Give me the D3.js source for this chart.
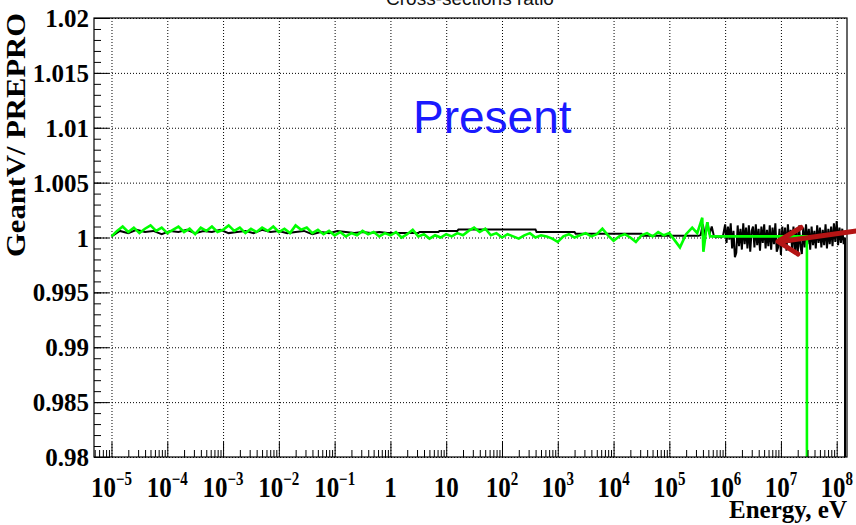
<!DOCTYPE html>
<html>
<head>
<meta charset="utf-8">
<script src="https://cdn.jsdelivr.net/npm/d3@7"></script>
<style>
body { margin: 0; background: #fff; }
svg { display: block; }
.lbl { font-family: "Liberation Serif", "Times New Roman", serif; font-weight: bold; fill: #000; }
</style>
</head>
<body>
<div id="chart"></div>
<script>
var chartTitle = "Cross-sections ratio";
var yTitle = "GeantV/ PREPRO";
var xTitle = "Energy, eV";
var noteText = "Present";

var xDecades = [-5, -4, -3, -2, -1, 0, 1, 2, 3, 4, 5, 6, 7, 8];
var yMajorTicks = [0.98, 0.985, 0.99, 0.995, 1, 1.005, 1.01, 1.015, 1.02];
var yTickLabels = ["0.98", "0.985", "0.99", "0.995", "1", "1.005", "1.01", "1.015", "1.02"];

// black curve, low energy: bins 0.15 decade wide starting at 1e-5 eV
var blackLowRatio = [1.0001, 1.0006, 1.0004, 1.0007, 1.0005, 1.0006, 1.0003, 1.0006, 1.0005, 1.0007,
    1.0004, 1.0006, 1.0005, 1.0007, 1.0004, 1.0005, 1.0006, 1.0004, 1.0007, 1.0005,
    1.0006, 1.0004, 1.0005, 1.0006, 1.0003, 1.0005, 1.0004, 1.0006, 1.0005, 1.0004,
    1.0005, 1.0004, 1.0005, 1.0004];
// black curve, smooth middle part (log10 E)
var blackMidLogE = [0.1, 0.5, 0.52, 0.86, 0.88, 1.2, 1.22, 2.6, 2.62, 3.3, 3.32, 4.5, 4.52, 5.52];
var blackMidRatio = [1.0004, 1.0004, 1.0005, 1.0005, 1.0006, 1.0006, 1.00073, 1.00073, 1.0005, 1.0005,
    1.00035, 1.00035, 1.00015, 1.00015];
// black curve, start of resonances: bins 0.04 decade wide from 10^5.56 eV
var blackHighRatio = [1.0002, 1.0012, 1.0001, 1.0014, 1.0003, 1.0010, 1.0001, 1.0000, 1.0001, 1.0000, 1.0001];
// black curve, resonance region: bins 0.025 decade wide from 10^6 eV
var blackNoiseRatio = [1.0012, 0.9995, 1.0010, 0.9998, 1.0013, 0.9990, 1.0006, 0.9982, 0.9986, 1.0011,
    0.9992, 1.0008, 0.9989, 1.0013, 0.9994, 1.0009, 0.9990, 1.0011, 0.9987, 1.0006,
    1.0010, 0.9991, 1.0012, 0.9993, 1.0008, 0.9988, 1.0010, 0.9995, 1.0012, 0.9990,
    1.0007, 0.9992, 1.0011, 0.9989, 1.0009, 0.9994, 1.0013, 0.9987, 0.9991, 1.0008,
    0.9984, 1.0010, 0.9993, 1.0009, 0.9988, 1.0012, 0.9995, 1.0007, 0.9990, 1.0010,
    0.9986, 1.0008, 0.9983, 1.0011, 0.9992, 0.9985, 1.0009, 0.9991, 1.0012, 0.9994,
    1.0008, 0.9989, 1.0010, 0.9993, 1.0006, 0.9990, 1.0011, 0.9995, 1.0009, 0.9991,
    1.0007, 0.9993, 1.0012, 0.9990, 1.0008, 0.9994, 1.0010, 0.9992, 1.0013, 0.9996,
    1.0015, 0.9993, 1.0009, 0.9995, 1.0008, 0.9994];
var blackEndLogE = [8.149, 8.149];
var blackEndRatio = [1.0000, 0.97];

// green curve, low energy: bins 0.1 decade wide starting at 1e-5 eV
var greenLowRatio = [1.0001, 1.0006, 1.0010, 1.0005, 1.0009, 1.0004, 1.0008, 1.0011, 1.0006, 1.0009,
    1.0004, 1.0007, 1.0010, 1.0005, 1.0008, 1.0003, 1.0009, 1.0006, 1.0010, 1.0005,
    1.0007, 1.0011, 1.0006, 1.0009, 1.0004, 1.0008, 1.0005, 1.0009, 1.0006, 1.0010,
    1.0005, 1.0008, 1.0004, 1.0011, 1.0007, 1.0009, 1.0004, 1.0007, 1.0003, 1.0006,
    1.0002, 1.0005, 1.0001, 1.0004, 1.0002, 1.0006, 1.0003, 1.0005, 1.0001, 1.0004,
    1.0002, 1.0005, 1.0000, 1.0003, 1.0007, 1.0001, 1.0003, 0.9999, 1.0002, 1.0000,
    1.0003, 1.0001, 1.0004, 1.0002, 1.0006, 1.0009, 1.0005, 1.0008, 1.0002, 1.0004,
    1.0000, 1.0003, 1.0001, 0.9999, 1.0002, 1.0004, 1.0000, 1.0002, 1.0001, 0.9999,
    0.9996, 1.0001, 1.0003, 1.0000, 1.0002, 1.0004, 1.0001, 1.0003, 1.0008, 1.0002,
    0.9997, 1.0001, 1.0003, 1.0000, 0.9996, 1.0002, 1.0004, 1.0001, 1.0005, 1.0002,
    1.0004];
// green curve, upper part (log10 E)
var greenTailLogE = [5.19, 5.3, 5.41, 5.5, 5.59, 5.61, 5.68, 5.73, 7.466, 7.466];
var greenTailRatio = [0.9991, 1.0003, 1.0009, 1.0004, 1.0018, 0.9987, 1.0014, 1.0001, 1.0001, 0.97];

var width = 856;
var height = 525;
var frame = { left: 94, right: 847, top: 18, bottom: 457 };

function addBins(series, values, startLog, stepLog) {
    values.forEach(function (v, i) {
        series.push({ e: Math.pow(10, startLog + stepLog * i), r: v });
    });
}
function addPoints(series, logs, values) {
    logs.forEach(function (l, i) {
        series.push({ e: Math.pow(10, l), r: values[i] });
    });
}

var blackSeries = [];
addBins(blackSeries, blackLowRatio, -5, 0.15);
addPoints(blackSeries, blackMidLogE, blackMidRatio);
addBins(blackSeries, blackHighRatio, 5.56, 0.04);
addBins(blackSeries, blackNoiseRatio, 6, 0.025);
addPoints(blackSeries, blackEndLogE, blackEndRatio);

var greenSeries = [];
addBins(greenSeries, greenLowRatio, -5, 0.1);
addPoints(greenSeries, greenTailLogE, greenTailRatio);

var x = d3.scaleLog()
    .domain([Math.pow(10, -5.3137), Math.pow(10, 8.1846)])
    .range([frame.left, frame.right]);
var y = d3.scaleLinear()
    .domain([0.98, 1.02])
    .range([frame.bottom, frame.top]);

var svg = d3.select("#chart")
    .append("svg")
    .attr("width", width)
    .attr("height", height);

svg.append("defs")
    .append("clipPath")
    .attr("id", "plotclip")
    .append("rect")
    .attr("x", frame.left)
    .attr("y", frame.top)
    .attr("width", frame.right - frame.left)
    .attr("height", frame.bottom - frame.top);

// dotted grid
var decadeValues = xDecades.map(function (k) { return Math.pow(10, k); });
var gx = svg.append("g")
    .attr("transform", "translate(0," + frame.bottom + ")")
    .call(d3.axisBottom(x).tickValues(decadeValues).tickSize(-(frame.bottom - frame.top)).tickFormat(""));
var gy = svg.append("g")
    .attr("transform", "translate(" + frame.left + ",0)")
    .call(d3.axisLeft(y).tickValues(yMajorTicks).tickSize(-(frame.right - frame.left)).tickFormat(""));
[gx, gy].forEach(function (g) {
    g.select(".domain").remove();
    g.selectAll("line")
        .attr("stroke", "#000")
        .attr("stroke-width", 1)
        .attr("stroke-dasharray", "1,2");
});

// curves
var line = d3.line()
    .x(function (d) { return x(d.e); })
    .y(function (d) { return y(d.r); });

var plot = svg.append("g").attr("clip-path", "url(#plotclip)");
plot.append("path")
    .datum(blackSeries)
    .attr("d", line)
    .attr("fill", "none")
    .attr("stroke", "#000")
    .attr("stroke-width", 2);
plot.append("path")
    .datum(greenSeries)
    .attr("d", line)
    .attr("fill", "none")
    .attr("stroke", "#00ff00")
    .attr("stroke-width", 2.6);

// frame
svg.append("rect")
    .attr("x", frame.left)
    .attr("y", frame.top)
    .attr("width", frame.right - frame.left)
    .attr("height", frame.bottom - frame.top)
    .attr("fill", "none")
    .attr("stroke", "#000")
    .attr("stroke-width", 1.2);

// ticks
var minorX = [];
for (var k = -6; k <= 8; k++) {
    for (var m = 2; m <= 9; m++) {
        var e = m * Math.pow(10, k);
        if (e > x.domain()[0] && e < x.domain()[1]) minorX.push(e);
    }
}
var minorY = d3.range(0, 41).map(function (i) { return 0.98 + i * 0.001; });

function tickAxis(g) {
    g.select(".domain").remove();
    g.selectAll("line").attr("stroke", "#000").attr("stroke-width", 1);
}
svg.append("g")
    .attr("transform", "translate(0," + frame.bottom + ")")
    .call(d3.axisBottom(x).tickValues(minorX).tickSize(-7).tickFormat(""))
    .call(tickAxis);
svg.append("g")
    .attr("transform", "translate(0," + frame.bottom + ")")
    .call(d3.axisBottom(x).tickValues(decadeValues).tickSize(-15).tickFormat(""))
    .call(tickAxis);
svg.append("g")
    .attr("transform", "translate(" + frame.left + ",0)")
    .call(d3.axisLeft(y).tickValues(minorY).tickSize(-7).tickFormat(""))
    .call(tickAxis);
svg.append("g")
    .attr("transform", "translate(" + frame.left + ",0)")
    .call(d3.axisLeft(y).tickValues(yMajorTicks).tickSize(-15).tickFormat(""))
    .call(tickAxis);

// y tick labels
svg.selectAll(".ylab")
    .data(yMajorTicks)
    .enter()
    .append("text")
    .attr("class", "lbl")
    .attr("x", 89)
    .attr("y", function (d) { return y(d); })
    .attr("dy", "0.36em")
    .attr("text-anchor", "end")
    .style("font-size", "25px")
    .text(function (d, i) { return yTickLabels[i]; });

// x tick labels
var xl = svg.selectAll(".xlab")
    .data(xDecades)
    .enter()
    .append("text")
    .attr("class", "lbl")
    .attr("text-anchor", "middle")
    .attr("transform", function (d) {
        return "translate(" + x(Math.pow(10, d)) + ",497) scale(1,1.2)";
    })
    .style("font-size", "25px");
xl.append("tspan")
    .text(function (d) { return d === 0 ? "1" : "10"; });
xl.filter(function (d) { return d !== 0 && d !== 1; })
    .append("tspan")
    .attr("dy", -10)
    .style("font-size", "15px")
    .text(function (d) { return d < 0 ? "\u2212" + (-d) : String(d); });

// axis titles
svg.append("text")
    .attr("class", "lbl")
    .attr("x", 847)
    .attr("y", 518)
    .attr("text-anchor", "end")
    .style("font-size", "25px")
    .text(xTitle);

svg.append("text")
    .attr("class", "lbl")
    .attr("transform", "translate(25,135) rotate(-90)")
    .attr("text-anchor", "middle")
    .attr("textLength", 244)
    .attr("lengthAdjust", "spacingAndGlyphs")
    .style("font-size", "27px")
    .text(yTitle);

svg.append("text")
    .attr("x", 470)
    .attr("y", 5)
    .attr("text-anchor", "middle")
    .style("font-family", "'Liberation Sans', Arial, sans-serif")
    .style("font-size", "19px")
    .style("fill", "#111")
    .text(chartTitle);

svg.append("text")
    .attr("x", 413)
    .attr("y", 133)
    .style("font-family", "'Liberation Sans', Arial, sans-serif")
    .style("font-size", "46px")
    .style("fill", "#1a1aff")
    .text(noteText);

// red arrow
var arrow = svg.append("g")
    .attr("stroke", "#b41414")
    .attr("stroke-width", 5)
    .attr("fill", "none")
    .attr("stroke-linecap", "round")
    .attr("stroke-linejoin", "round");
arrow.append("line")
    .attr("x1", 860).attr("y1", 230.5)
    .attr("x2", 781).attr("y2", 241.5);
arrow.append("polyline")
    .attr("points", "801,227.5 778,241.5 798,254");
</script>
</body>
</html>
